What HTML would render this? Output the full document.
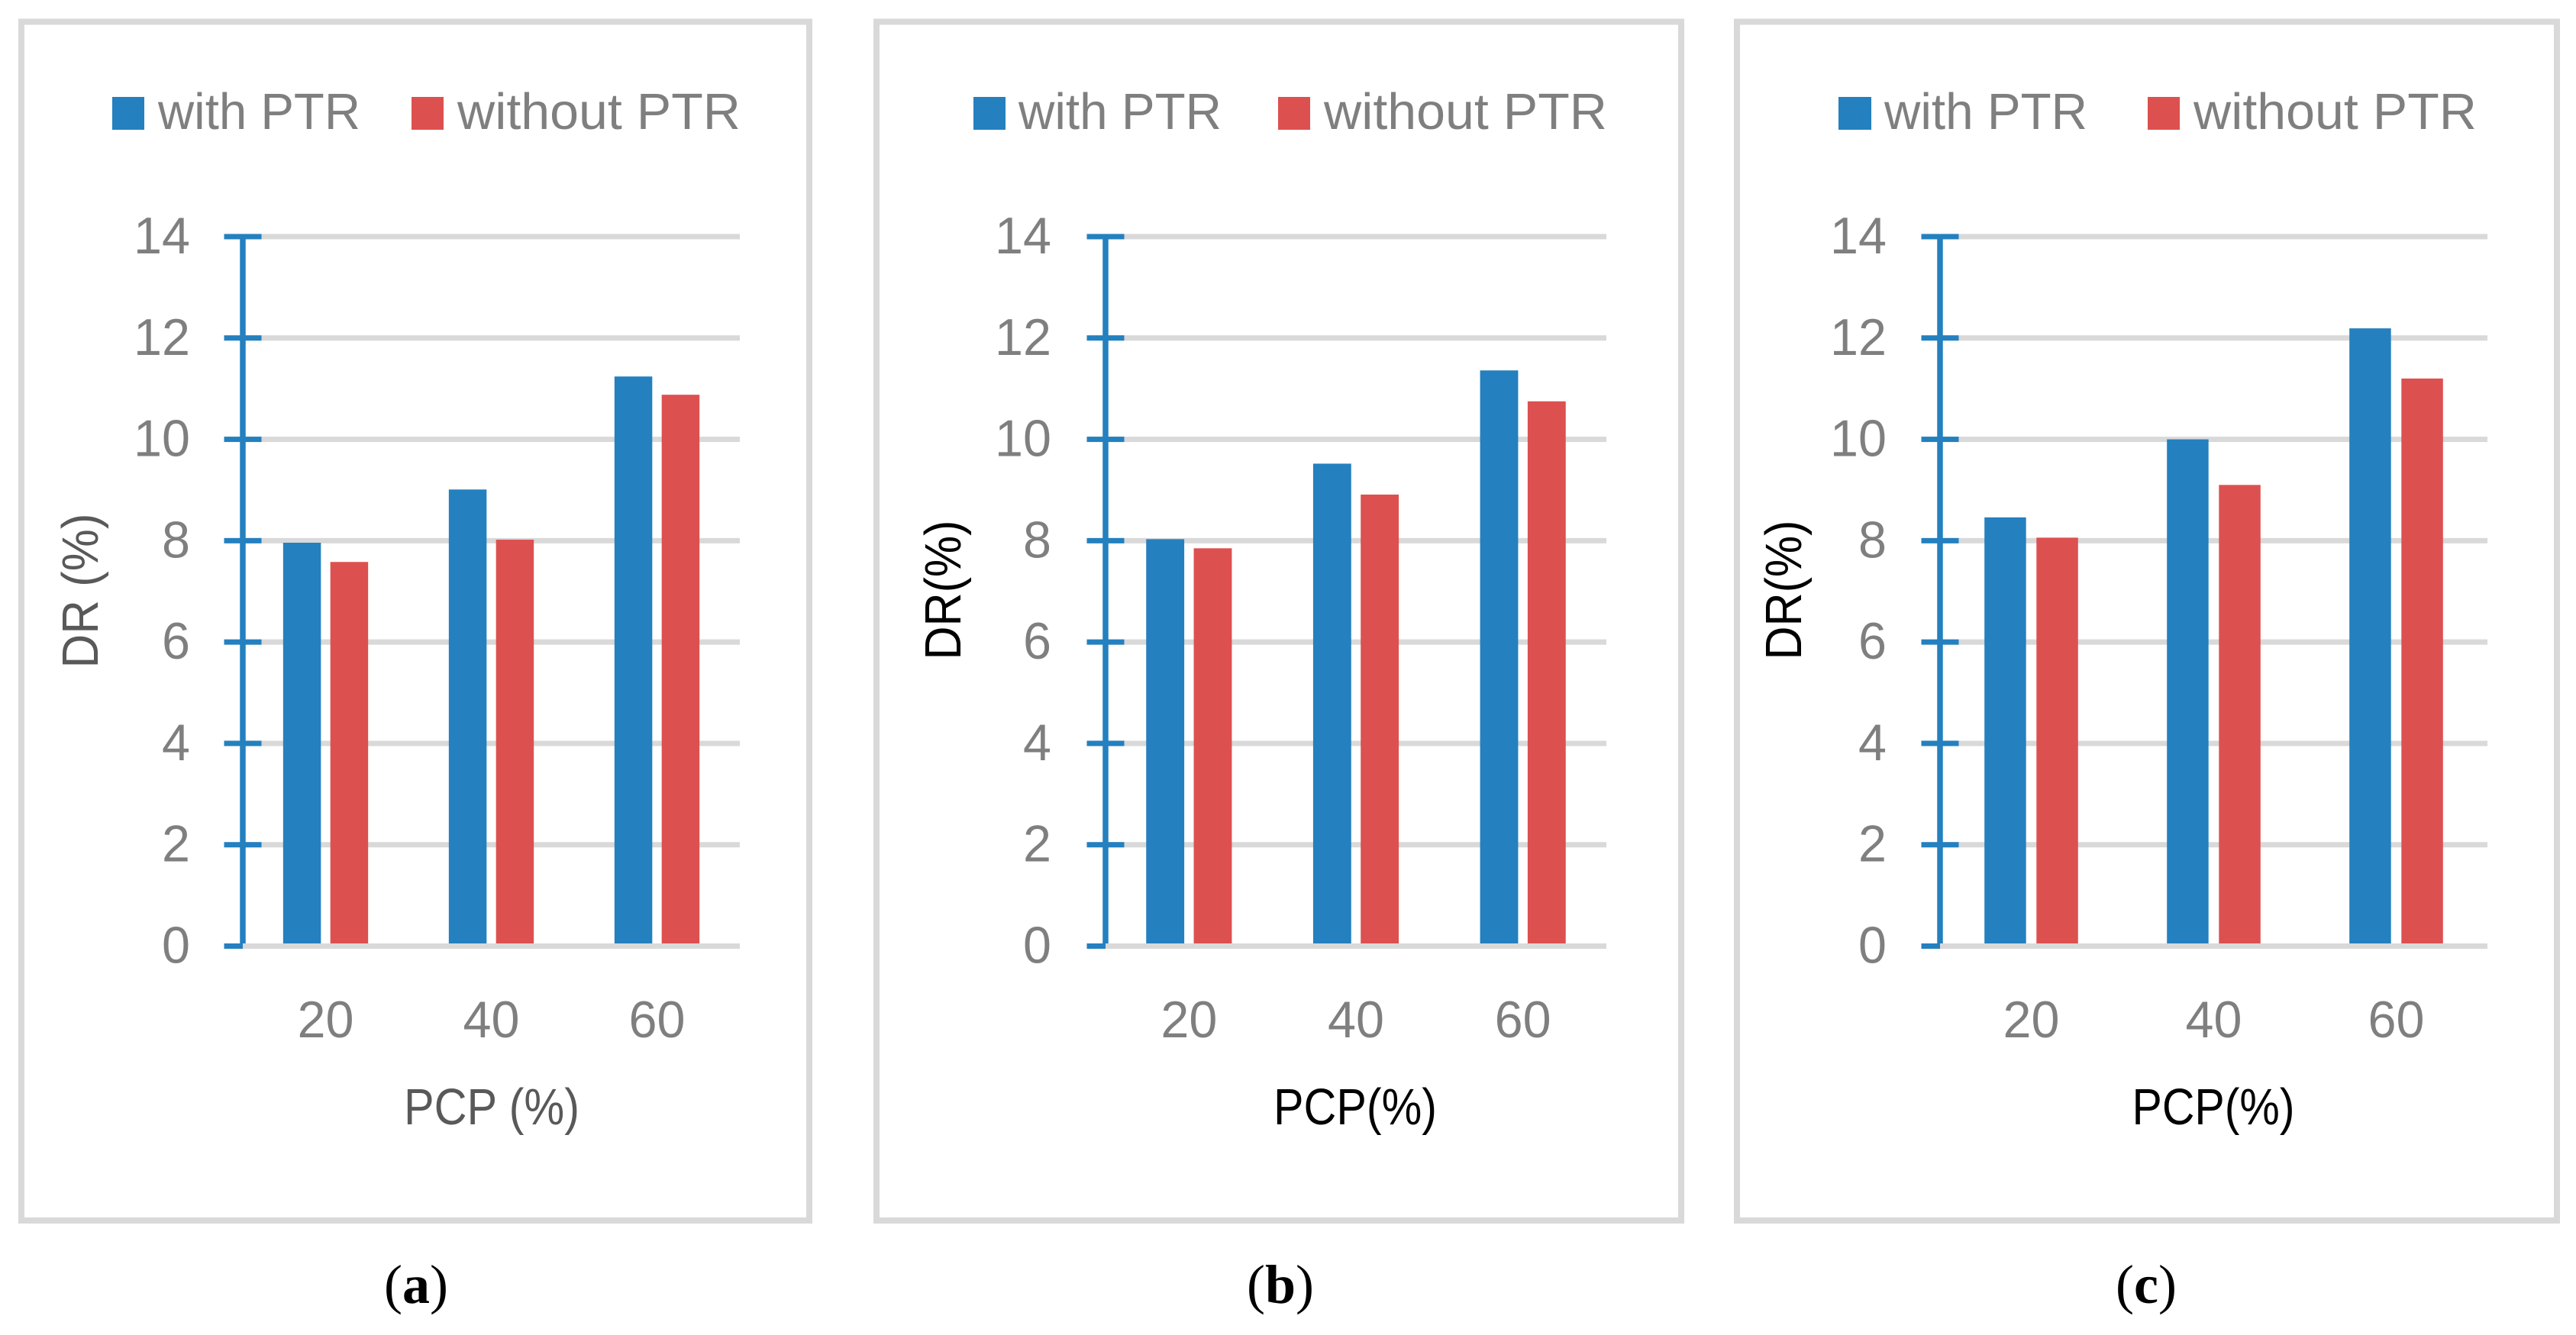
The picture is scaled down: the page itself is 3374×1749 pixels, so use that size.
<!DOCTYPE html>
<html lang="en">
<head>
<meta charset="utf-8">
<title>DR versus PCP with and without PTR</title>
<style>
  html, body { margin: 0; padding: 0; background: #ffffff; }
  body { width: 3374px; height: 1749px; overflow: hidden; }
  svg { display: block; }
  text { font-family: "Liberation Sans", sans-serif; }
  .legend-text { font-size: 67px; fill: #7f7f7f; }
  .title-gray { font-size: 67px; fill: #595959; }
  .title-black { font-size: 67px; fill: #000000; }
  .caption { font-family: "Liberation Serif", serif; font-size: 72px; fill: #000000; text-anchor: middle; }
  .caption tspan { font-weight: bold; }
  .frame { fill: #ffffff; stroke: #d9d9d9; stroke-width: 8; }
</style>
</head>
<body>
<svg id="figure" xmlns="http://www.w3.org/2000/svg" width="3374" height="1749" viewBox="0 0 3374 1749">
  <rect width="3374" height="1749" fill="#ffffff"/>

  <g>
    <rect class="frame" x="28" y="28.5" width="1032" height="1570.5"/>
    <rect x="147" y="127" width="42" height="43" fill="#2480bf"/>
    <text class="legend-text" x="207" y="169" textLength="265" lengthAdjust="spacingAndGlyphs">with PTR</text>
    <rect x="539" y="127" width="42" height="43" fill="#dd5050"/>
    <text class="legend-text" x="599" y="169" textLength="371" lengthAdjust="spacingAndGlyphs">without PTR</text>
    <text class="title-gray" text-anchor="middle" x="644" y="1473" textLength="230" lengthAdjust="spacingAndGlyphs">PCP (%)</text>
    <text class="title-gray" text-anchor="middle" transform="translate(128,774) rotate(-90)" textLength="203" lengthAdjust="spacingAndGlyphs">DR (%)</text>
    <text class="caption" x="545" y="1707">(<tspan>a</tspan>)</text>
  </g>

  <g>
    <rect class="frame" x="1148" y="28.5" width="1054" height="1570.5"/>
    <rect x="1275" y="127" width="42" height="43" fill="#2480bf"/>
    <text class="legend-text" x="1334" y="169" textLength="266" lengthAdjust="spacingAndGlyphs">with PTR</text>
    <rect x="1674" y="127" width="42" height="43" fill="#dd5050"/>
    <text class="legend-text" x="1734" y="169" textLength="371" lengthAdjust="spacingAndGlyphs">without PTR</text>
    <text class="title-black" text-anchor="middle" x="1775" y="1473" textLength="214" lengthAdjust="spacingAndGlyphs">PCP(%)</text>
    <text class="title-black" text-anchor="middle" transform="translate(1258,773) rotate(-90)" textLength="183" lengthAdjust="spacingAndGlyphs">DR(%)</text>
    <text class="caption" x="1677" y="1707">(<tspan>b</tspan>)</text>
  </g>

  <g>
    <rect class="frame" x="2275" y="28.5" width="1074" height="1570.5"/>
    <rect x="2408" y="127" width="43" height="43" fill="#2480bf"/>
    <text class="legend-text" x="2468" y="169" textLength="266" lengthAdjust="spacingAndGlyphs">with PTR</text>
    <rect x="2813" y="127" width="42" height="43" fill="#dd5050"/>
    <text class="legend-text" x="2873" y="169" textLength="371" lengthAdjust="spacingAndGlyphs">without PTR</text>
    <text class="title-black" text-anchor="middle" x="2899" y="1473" textLength="213" lengthAdjust="spacingAndGlyphs">PCP(%)</text>
    <text class="title-black" text-anchor="middle" transform="translate(2359,773) rotate(-90)" textLength="183" lengthAdjust="spacingAndGlyphs">DR(%)</text>
    <text class="caption" x="2811" y="1707">(<tspan>c</tspan>)</text>
  </g>

  <g id="charts"></g>
</svg>

<script>
const categories = ['20', '40', '60'];
const yTickValues = [0, 2, 4, 6, 8, 10, 12, 14];
const yTickLabels = ['0', '2', '4', '6', '8', '10', '12', '14'];

const withPtrA = [7.96, 9.01, 11.24];
const withoutPtrA = [7.58, 8.02, 10.88];
const withPtrB = [8.03, 9.52, 11.36];
const withoutPtrB = [7.85, 8.91, 10.75];
const withPtrC = [8.46, 10.0, 12.19];
const withoutPtrC = [8.06, 9.10, 11.20];

const BLUE = '#2480bf';
const RED = '#dd5050';
const GRID = '#d9d9d9';
const SVG_NS = 'http://www.w3.org/2000/svg';

const Y_ZERO = 1239.5;
const Y_MAX_POS = 310;
const Y_MAX = 14;
const AXIS_W = 7.5;
const LINE_H = 7;
const TICK_FONT = 68;
const CHAR_W = 37;

function yScale(v) {
  return Y_ZERO - v * (Y_ZERO - Y_MAX_POS) / Y_MAX;
}

function xBandCenter(left, right, i, n) {
  return left + (right - left) * (i + 0.5) / n;
}

function shape(tag, attrs, parent) {
  const el = document.createElementNS(SVG_NS, tag);
  Object.keys(attrs).forEach(function (k) { el.setAttribute(k, attrs[k]); });
  parent.appendChild(el);
  return el;
}

function drawPanel(id, left, right, labelRight, withPtr, withoutPtr) {
  const root = document.getElementById('charts');
  const g = shape('g', {}, root);
  
  

  const tickL = left - 24.5;
  const tickR = left + 24.5;

  yTickValues.forEach(function (v, i) {
    const y = yScale(v);
    const line = shape('rect', { x: left, y: y - LINE_H / 2, width: right - left, height: LINE_H, fill: GRID }, g);
    
    
  });

  const n = categories.length;
  const band = (right - left) / n;
  const barW = band * 0.228;
  const gap = barW * 0.25;
  const base = yScale(0) - LINE_H / 2;

  categories.forEach(function (cat, i) {
    const cx = xBandCenter(left, right, i, n);
    const topA = yScale(withPtr[i]);
    const barA = shape('rect', { x: cx - gap / 2 - barW, y: topA, width: barW, height: base - topA, fill: BLUE }, g);
    
    

    const topB = yScale(withoutPtr[i]);
    const barB = shape('rect', { x: cx + gap / 2, y: topB, width: barW, height: base - topB, fill: RED }, g);
    
    

    const lab = shape('text', { x: cx, y: 1359, 'text-anchor': 'middle', 'font-size': TICK_FONT, fill: '#7f7f7f', textLength: cat.length * CHAR_W, lengthAdjust: 'spacingAndGlyphs' }, g);
    lab.textContent = cat;
    
    
  });

  const axis = shape('rect', { x: left - AXIS_W / 2, y: yScale(Y_MAX), width: AXIS_W, height: base - yScale(Y_MAX), fill: BLUE }, g);
  
  

  yTickValues.forEach(function (v, i) {
    const y = yScale(v);
    const w = v === 0 ? left - tickL : tickR - tickL;
    const tick = shape('rect', { x: tickL, y: y - LINE_H / 2, width: w, height: LINE_H, fill: BLUE }, g);
    
    

    const label = yTickLabels[i];
    const lab = shape('text', { x: labelRight + 2, y: y + 22, 'text-anchor': 'end', 'font-size': TICK_FONT, fill: '#7f7f7f', textLength: label.length * CHAR_W, lengthAdjust: 'spacingAndGlyphs' }, g);
    lab.textContent = label;
    
    
  });
}

drawPanel('a', 318, 969, 247, withPtrA, withoutPtrA);
drawPanel('b', 1448, 2104, 1375, withPtrB, withoutPtrB);
drawPanel('c', 2541, 3258, 2469, withPtrC, withoutPtrC);
</script>
</body>
</html>
